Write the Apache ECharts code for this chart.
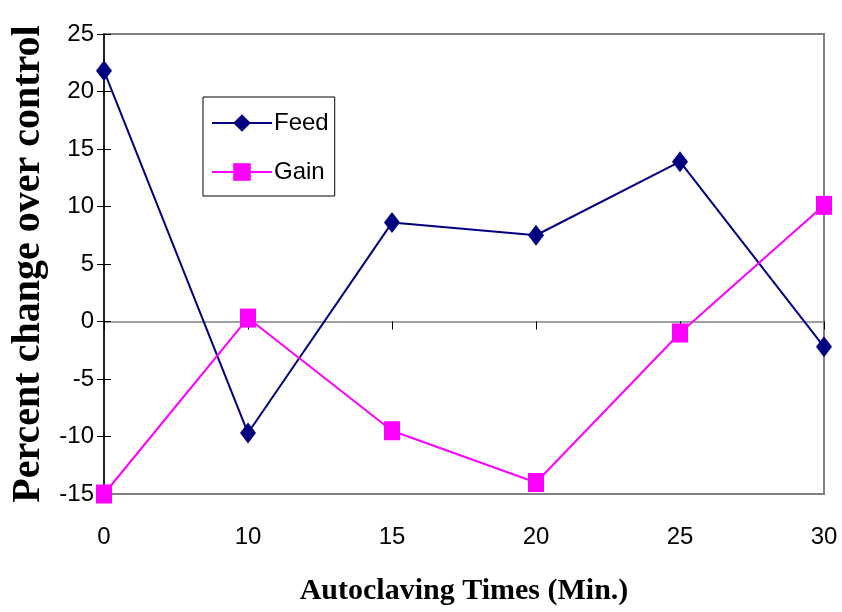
<!DOCTYPE html>
<html>
<head>
<meta charset="utf-8">
<script src="https://cdn.jsdelivr.net/npm/echarts@6/dist/echarts.min.js"></script>
<style>
  html, body { margin: 0; padding: 0; background: #fff; }
  #chart { width: 842px; height: 612px; }
</style>
</head>
<body>
<div id="chart"></div>
<script>
var times = ['0', '10', '15', '20', '25', '30'];
var feed = [21.8, -9.7, 8.6, 7.5, 13.9, -2.2];
var gain = [-15.0, 0.3, -9.5, -14.0, -1.0, 10.1];

var myChart = echarts.init(document.getElementById('chart'));

var yBase = { type: 'value', min: -15, max: 25, interval: 5 };

var option = {
    backgroundColor: '#fff',
    animation: false,
    grid: {
        left: 104, right: 18, top: 34, bottom: 118,
        show: true, borderColor: '#808080', borderWidth: 2
    },
    legend: {
        orient: 'vertical',
        left: 203, top: 97,
        padding: [14, 6, 12, 8],
        borderColor: '#000', borderWidth: 1,
        itemWidth: 60, itemHeight: 22, itemGap: 25,
        textStyle: { fontFamily: 'Liberation Sans', fontSize: 24, color: '#000', padding: [0, 0, 0, -3] },
        data: ['Feed', 'Gain']
    },
    xAxis: [
        {
            type: 'category', data: times, boundaryGap: false,
            axisLine: { onZero: true, lineStyle: { color: '#808080', width: 1.5 } },
            axisTick: { show: true, length: 8, inside: false, lineStyle: { color: '#000' } },
            axisLabel: { show: false },
            splitLine: { show: false }
        },
        {
            type: 'category', data: times, boundaryGap: false, position: 'bottom',
            axisLine: { show: false }, axisTick: { show: false },
            axisLabel: { margin: 31, fontFamily: 'Liberation Sans', fontSize: 24, color: '#000' },
            name: 'Autoclaving Times (Min.)', nameLocation: 'middle', nameGap: 82,
            nameTextStyle: { fontFamily: 'Liberation Serif', fontWeight: 'bold', fontSize: 30, color: '#000' }
        }
    ],
    yAxis: [
        Object.assign({}, yBase, {
            axisLine: { show: true, lineStyle: { color: '#000', width: 1.5 } },
            axisTick: { show: true, length: 7, lineStyle: { color: '#000' } },
            axisLabel: { margin: 10, fontFamily: 'Liberation Sans', fontSize: 24, color: '#000' },
            splitLine: { show: false },
            name: 'Percent change over control', nameLocation: 'middle', nameGap: 55,
            nameTextStyle: { fontFamily: 'Liberation Serif', fontWeight: 'bold', fontSize: 40, color: '#000' }
        }),
        Object.assign({}, yBase, {
            position: 'left',
            axisLine: { show: false },
            axisTick: { show: true, inside: true, length: 7, lineStyle: { color: '#000' } },
            axisLabel: { show: false },
            splitLine: { show: false }
        })
    ],
    series: [
        {
            name: 'Feed', type: 'line', data: feed,
            symbol: 'diamond', symbolSize: [16, 21],
            lineStyle: { color: '#000080', width: 2 },
            itemStyle: { color: '#000080' }
        },
        {
            name: 'Gain', type: 'line', data: gain,
            symbol: 'rect', symbolSize: [16, 19],
            lineStyle: { color: '#ff00ff', width: 2 },
            itemStyle: { color: '#ff00ff' }
        }
    ]
};

myChart.setOption(option);
window.addEventListener('resize', function () {
    myChart.resize();
});
</script>
</body>
</html>
